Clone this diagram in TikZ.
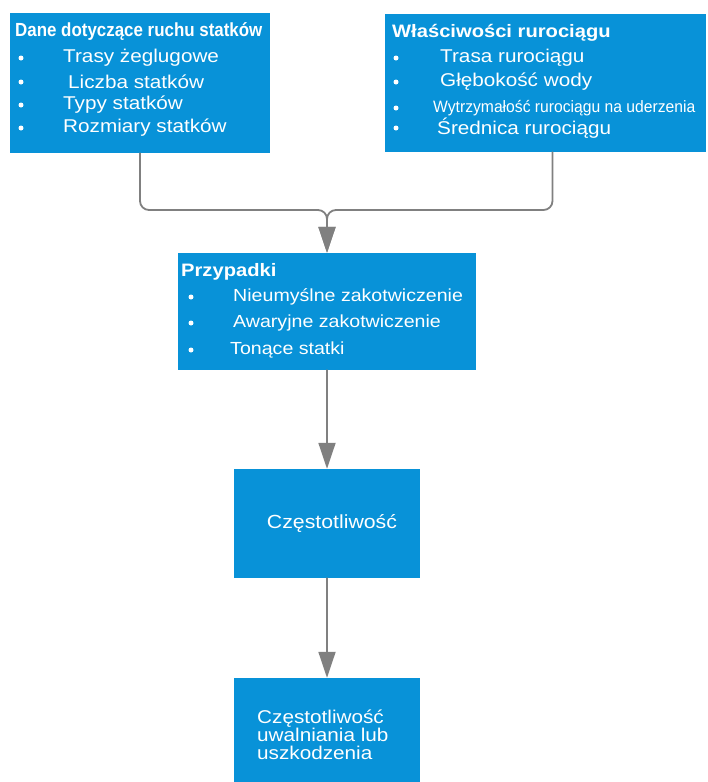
\documentclass[tikz,border=0pt]{standalone}
\usepackage{fontspec}
\setmainfont{Liberation Sans}[FakeStretch=1.12]
\newfontfamily\narrowfont{Liberation Sans}[FakeStretch=0.89]
\newfontfamily\slimfont{Liberation Sans}[FakeStretch=0.95]
\usetikzlibrary{arrows.meta}
\definecolor{boxblue}{RGB}{8,146,216}
\definecolor{linegray}{RGB}{128,128,128}

\begin{document}
\begin{tikzpicture}[x=1pt,y={(0pt,-1pt)},line cap=round,line join=round,
  >={Triangle[length=26pt,width=17pt]},
  box/.style={fill=boxblue,draw=none,inner sep=0pt},
  txt/.style={text=white,anchor=west,inner sep=0pt,font=\fontsize{18.5}{18.5}\selectfont},
  head/.style={text=white,anchor=west,inner sep=0pt,font=\bfseries\fontsize{18}{18}\selectfont},
  dot/.style={circle,fill=white,inner sep=0pt,minimum size=5pt},
  conn/.style={draw=linegray,line width=1.8pt,rounded corners=9pt}]

\useasboundingbox (0,0) rectangle (708,782);

% boxes
\node[box,minimum width=260pt,minimum height=140pt] (traffic) at (140,83) {};
\node[box,minimum width=321pt,minimum height=138pt] (pipe) at (545.5,83) {};
\node[box,minimum width=298pt,minimum height=117pt] (cases) at (327,311.5) {};
\node[box,minimum width=186pt,minimum height=109pt] (freq) at (327,523.5) {};
\node[box,minimum width=186pt,minimum height=104pt] (release) at (327,730) {};

% ship traffic data
\node[head,font=\narrowfont\bfseries\fontsize{19}{19}\selectfont] (traffichead) at (15,32) {Dane dotyczące ruchu statków};
\foreach \x/\y/\t [count=\i] in {63/58/Trasy żeglugowe,68/82/Liczba statków,63/105/Typy statków,63/128/Rozmiary statków}{
  \node[dot] (trafficdot\i) at (21,\y) {};
  \node[txt] (trafficitem\i) at (\x,\y) {\t};
}

% pipeline properties
\node[head] (pipehead) at (392,33) {Właściwości rurociągu};
\node[dot] (pipedot1) at (396,58) {};
\node[txt] (pipeitem1) at (440,58) {Trasa rurociągu};
\node[dot] (pipedot2) at (396,82) {};
\node[txt] (pipeitem2) at (440,82) {Głębokość wody};
\node[dot] (pipedot3) at (396,108) {};
\node[txt,font=\slimfont\fontsize{16.5}{16.5}\selectfont] (pipeitem3) at (433,108) {Wytrzymałość rurociągu na uderzenia};
\node[dot] (pipedot4) at (396,128) {};
\node[txt] (pipeitem4) at (437,128) {Średnica rurociągu};

% cases
\node[head] (caseshead) at (181,272) {Przypadki};
\foreach \x/\y/\t [count=\i] in {233/297/Nieumyślne zakotwiczenie,233/323/Awaryjne zakotwiczenie,230/350/Tonące statki}{
  \node[dot] (casesdot\i) at (191,\y) {};
  \node[txt,font=\fontsize{17.5}{17.5}\selectfont] (casesitem\i) at (\x,\y) {\t};
}

% frequencies
\node[txt,anchor=center,font=\fontsize{19}{19}\selectfont] (freqtext) at (332,523) {Częstotliwość};
\node[txt,align=left,font=\fontsize{18.5}{18}\selectfont] (releasetext) at (257,735) {Częstotliwość\\uwalniania lub\\uszkodzenia};

% connectors
\coordinate (join) at (327,210);
\draw[conn,->] (traffic.south) |- (join) -- (cases.north);
\draw[conn,->] ([xshift=7pt]pipe.south) |- (join) -- (cases.north);
\draw[conn,->] (cases.south) -- (freq.north);
\draw[conn,->] (freq.south) -- (release.north);

\end{tikzpicture}
\end{document}
